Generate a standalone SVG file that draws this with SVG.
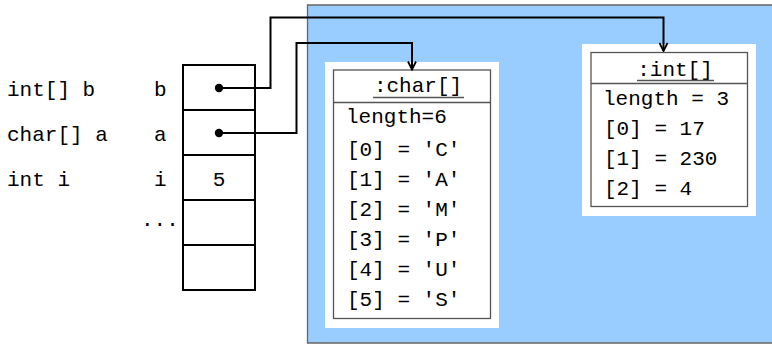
<svg xmlns="http://www.w3.org/2000/svg" width="772" height="344" viewBox="0 0 772 344">
<style>
text{font-family:"Liberation Mono","DejaVu Sans Mono",monospace;font-size:21px;fill:#000}
.cell{fill:#fff;stroke:#000;stroke-width:2}
.pad{fill:#fff;stroke:none}
.obj{fill:#fff;stroke:#555;stroke-width:1.3}
.ul{stroke:#555;stroke-width:1.3}
.conn{fill:none;stroke:#000;stroke-width:2}
.mid{text-anchor:middle}
</style>
<defs>
<marker id="arr" viewBox="0 0 10 10" refX="9" refY="5" markerWidth="10" markerHeight="10" markerUnits="userSpaceOnUse" orient="auto">
<path d="M1,1 L9,5 L1,9" fill="none" stroke="#000" stroke-width="1.8"/>
</marker>
</defs>
<g id="heap">
<path d="M307.5,5 H772 V343 H307.5 Z" fill="#99ccff" stroke="none"/>
<path d="M772,5 H307.5 V343 H772" fill="none" stroke="#666" stroke-width="1.3"/>
</g>
<g id="labels">
<text x="7" y="96">int[] b</text>
<text x="7" y="141">char[] a</text>
<text x="7" y="186">int i</text>
</g>
<g id="stack">
<rect class="cell" x="183" y="65" width="72" height="45"/>
<rect class="cell" x="183" y="110" width="72" height="45"/>
<rect class="cell" x="183" y="155" width="72" height="45"/>
<rect class="cell" x="183" y="200" width="72" height="45"/>
<rect class="cell" x="183" y="245" width="72" height="45"/>
<text x="154" y="96">b</text>
<text x="154" y="141">a</text>
<text x="154" y="186">i</text>
<text x="219" y="186" class="mid">5</text>
<text x="141" y="226">...</text>
</g>
<g id="charArray">
<rect class="pad" x="325" y="62" width="174" height="266"/>
<rect class="obj" x="333.5" y="70" width="157" height="248.5"/>
<line class="ul" x1="333.5" y1="102.5" x2="490.5" y2="102.5"/>
<text x="418" y="92" class="mid">:char[]</text>
<line class="ul" x1="373" y1="97.5" x2="464" y2="97.5"/>
<text x="346" y="123">length=6</text>
<text x="347" y="156">[0] = 'C'</text>
<text x="347" y="186">[1] = 'A'</text>
<text x="347" y="216">[2] = 'M'</text>
<text x="347" y="246">[3] = 'P'</text>
<text x="347" y="276">[4] = 'U'</text>
<text x="347" y="306">[5] = 'S'</text>
</g>
<g id="intArray">
<rect class="pad" x="582" y="44" width="174" height="172"/>
<rect class="obj" x="591" y="52.5" width="156.5" height="154"/>
<line class="ul" x1="591" y1="83.5" x2="747.5" y2="83.5"/>
<text x="675" y="76" class="mid">:int[]</text>
<line class="ul" x1="637" y1="80.5" x2="714" y2="80.5"/>
<text x="603" y="105">length = 3</text>
<text x="604" y="135">[0] = 17</text>
<text x="604" y="165">[1] = 230</text>
<text x="604" y="195">[2] = 4</text>
</g>
<g id="connectors">
<circle cx="219" cy="88" r="4.2" fill="#000"/>
<circle cx="219" cy="133" r="4.2" fill="#000"/>
<path class="conn" d="M219,88 H270.5 V17.5 H663.5 V51" marker-end="url(#arr)"/>
<path class="conn" d="M219,133 H296.5 V43 H412 V69.5" marker-end="url(#arr)"/>
</g>
</svg>
